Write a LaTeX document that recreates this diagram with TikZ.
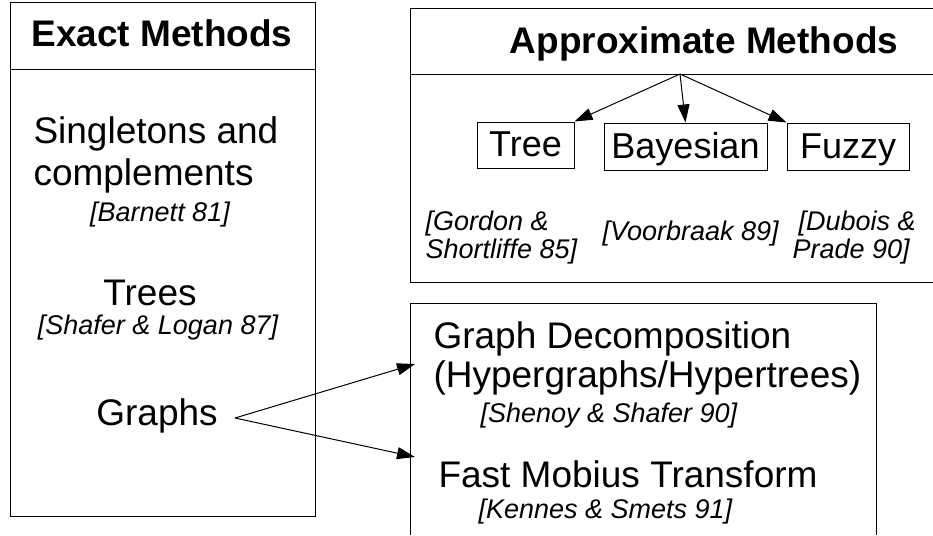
\documentclass[tikz,border=0pt]{standalone}
\usepackage{fontspec}
\setmainfont{Liberation Sans}
\usetikzlibrary{arrows.meta}

\begin{document}
\begin{tikzpicture}[x=1pt,y=-1pt,line width=1pt,
  head/.style={font=\fontsize{37}{40}\selectfont\bfseries,inner sep=0pt},
  entry/.style={font=\fontsize{37}{40}\selectfont,inner sep=0pt},
  cite/.style={font=\fontsize{27}{30}\selectfont\itshape,inner sep=0pt},
  kind/.style={draw,font=\fontsize{36}{40}\selectfont,inner sep=0pt,
    text height=26pt,text depth=3pt},
  tip/.style={-{Triangle[length=18pt,width=12pt]}}]
  \useasboundingbox (0,0) rectangle (933,535);
  % frames
  \draw (10,3) rectangle (315,516) (10,69) -- (315,69);
  \draw (933,9) -- (410,9) -- (410,282) -- (933,282) (410,74) -- (933,74);
  \draw (410,535) -- (410,303) -- (876,303) -- (876,535);
  % exact
  \node[head,anchor=base] (exact) at (162,47) {Exact Methods};
  \node[entry,anchor=base west] (single) at (33,143) {Singletons and};
  \node[entry,anchor=base west] (compl) at (33,185) {complements};
  \node[cite,anchor=base] (barnett) at (160,221) {[Barnett 81]};
  \node[entry,anchor=base] (trees) at (150,305) {Trees};
  \node[cite,anchor=base] (shafer) at (158,334) {[Shafer \& Logan 87]};
  \node[entry,anchor=base] (graphs) at (157,425) {Graphs};
  % approximate
  \node[head,anchor=base] (approx) at (704,53) {Approximate Methods};
  \coordinate (split) at (680,74);
  \node[kind,minimum width=97pt,minimum height=46pt] (tree) at (525.5,145) {Tree};
  \node[kind,minimum width=163pt,minimum height=47pt] (bayes) at (685.5,146.5) {Bayesian};
  \node[kind,minimum width=122pt,minimum height=47pt] (fuzzy) at (848,146.5) {Fuzzy};
  \node[cite,anchor=base west] (gordon) at (425,230) {[Gordon \&};
  \node[cite,anchor=base west] (shortl) at (425,258) {Shortliffe 85]};
  \node[cite,anchor=base west] (voor) at (602,240) {[Voorbraak 89]};
  \node[cite,anchor=base west] (dubois) at (798,230) {[Dubois \&};
  \node[cite,anchor=base west] (prade) at (792,258) {Prade 90]};
  \draw[tip] (split) -- (tree.north east);
  \draw[tip] (split) -- (bayes.north);
  \draw[tip] (split) -- (fuzzy.north west);
  % graph methods
  \node[entry,anchor=base west] (decomp) at (433,348) {Graph Decomposition};
  \node[entry,anchor=base west] (hyper) at (433,387) {(Hypergraphs/Hypertrees)};
  \node[cite,anchor=base west] (shenoy) at (480,422) {[Shenoy \& Shafer 90]};
  \node[entry,anchor=base west] (mobius) at (438,487) {Fast Mobius Transform};
  \node[cite,anchor=base west] (kennes) at (478,518) {[Kennes \& Smets 91]};
  \coordinate (fork) at (235,418);
  \coordinate (decoIn) at (415,364);
  \coordinate (mobIn) at (415,457);
  \draw[tip] (fork) -- (decoIn);
  \draw[tip] (fork) -- (mobIn);
\end{tikzpicture}
\end{document}
